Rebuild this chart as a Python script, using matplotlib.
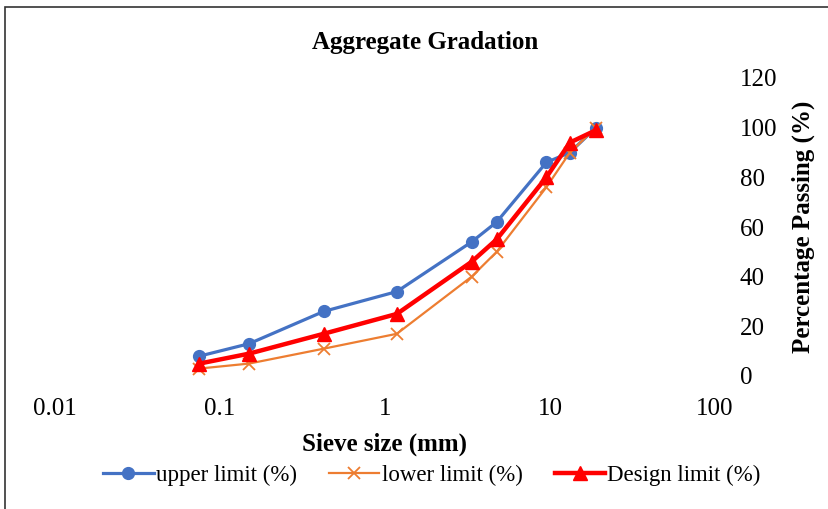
import matplotlib
matplotlib.use("Agg")
import matplotlib.pyplot as plt
from matplotlib.patches import Rectangle

plt.rcParams['font.family'] = ['Liberation Serif', 'DejaVu Serif']

# Sieve sizes (mm) and percentage passing
sieve_mm = [0.075, 0.15, 0.425, 1.18, 3.35, 4.75, 9.5, 13.2, 19]
upper_limit = [8, 13, 26, 34, 54, 62, 86, 90, 100]
lower_limit = [3, 5, 11, 17, 40, 50, 76, 90, 100]
design_limit = [5, 9, 17, 25, 46, 55, 80, 94, 99]

x_ticks = [0.01, 0.1, 1, 10, 100]
x_tick_labels = ["0.01", "0.1", "1", "10", "100"]
y_ticks = [0, 20, 40, 60, 80, 100, 120]

fig = plt.figure(figsize=(8.29, 5.09), dpi=100)
ax = fig.add_axes([55 / 829, 1 - 376 / 509, 660 / 829, 298 / 509])

ax.plot(sieve_mm, upper_limit, color="#4472C4", lw=2.3, marker="o",
        markersize=8.5, label="upper limit (%)", zorder=3)
ax.plot(sieve_mm, lower_limit, color="#ED7D31", lw=1.6, marker="x",
        markersize=8, markeredgewidth=1.3, label="lower limit (%)", zorder=4)
ax.plot(sieve_mm, design_limit, color="#FF0000", lw=3.2, marker="^",
        markersize=9.5, label="Design limit (%)", zorder=5)

ax.set_xscale("log")
ax.set_xlim(0.01, 100)
ax.set_ylim(0, 120)
ax.set_xticks(x_ticks)
ax.set_xticklabels(x_tick_labels)
ax.minorticks_off()
ax.set_yticks(y_ticks)
ax.yaxis.tick_right()
ax.yaxis.set_label_position("right")
ax.tick_params(axis="both", length=0, labelsize=18)
ax.tick_params(axis="x", pad=16)
ax.tick_params(axis="y", pad=18)
for s in ax.spines.values():
    s.set_visible(False)

ax.set_xlabel("Sieve size (mm)", fontsize=18, fontweight="bold", labelpad=9)
ax.set_ylabel("Percentage Passing (%)", fontsize=18, fontweight="bold",
              labelpad=10)

fig.text(0.513, 1 - 43 / 509, "Aggregate Gradation", fontsize=18,
         fontweight="bold", ha="center", va="center")

ax.legend(loc="center", bbox_to_anchor=(0.571, -0.335), ncol=3, frameon=False,
          fontsize=16.5, handlelength=2.2, handletextpad=0.1,
          columnspacing=1.4)

fig.patches.append(Rectangle((5 / 829, -0.1), 1.2, 1 - 7 / 509 + 0.1,
                             transform=fig.transFigure, fill=False,
                             edgecolor="#333333", lw=1.2))

fig.savefig("out.png", dpi=100)
